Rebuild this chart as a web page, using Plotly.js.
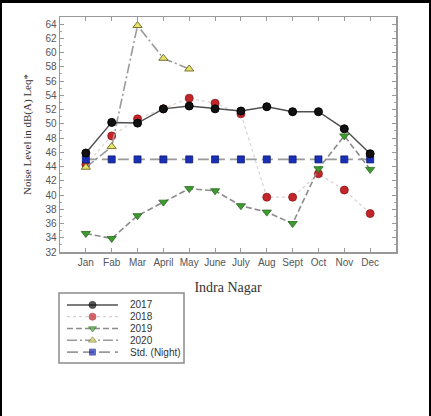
<!DOCTYPE html>
<html>
<head>
<meta charset="utf-8">
<script src="https://cdn.plot.ly/plotly-3.0.1.min.js"></script>
<style>html,body{margin:0;padding:0;background:#fff;}#chart{width:431px;height:416px;}</style>
</head>
<body>
<div id="chart"></div>
<script>
var months = ["Jan","Fab","Mar","April","May","June","July","Aug","Sept","Oct","Nov","Dec"];
var y2017 = [45.9, 50.2, 50.1, 52.1, 52.5, 52.1, 51.8, 52.4, 51.7, 51.7, 49.3, 45.8];
var y2018 = [44.3, 48.3, 50.7, 52.1, 53.6, 52.9, 51.4, 39.7, 39.7, 43.0, 40.7, 37.4];
var y2019 = [34.6, 33.9, 37.1, 39.0, 40.9, 40.6, 38.5, 37.6, 36.0, 43.7, 48.3, 43.6];
var y2020 = [43.9, 46.8, 63.8, 59.2, 57.7, null, null, null, null, null, null, null];
var yStd  = [45, 45, 45, 45, 45, 45, 45, 45, 45, 45, 45, 45];
var seriesNames = ["2017", "2018", "2019", "2020", "Std. (Night)"];

var W = 431, H = 416;
function px(x){ return x / W; }
function py(y){ return (H - y) / H; }

var styles = [
  {line:{color:"#505050", width:1.5, dash:"solid"}, marker:{symbol:"circle", size:8, color:"#111", line:{color:"#000", width:1}}},
  {line:{color:"#dcd0d0", width:1.2, dash:"dot"}, marker:{symbol:"circle", size:8, color:"#c4252a", line:{color:"#8a1a1a", width:0.8}}},
  {line:{color:"#8c8c8c", width:1.6, dash:"6px,3px"}, marker:{symbol:"triangle-down", size:8, color:"#3d9b2f", line:{color:"#2a6a20", width:0.8}}},
  {line:{color:"#9a9a9a", width:1.6, dash:"10px,3px,2px,3px"}, marker:{symbol:"triangle-up", size:8, color:"#e6e26a", line:{color:"#6a6420", width:0.9}}},
  {line:{color:"#9a9a9a", width:1.6, dash:"11px,5px"}, marker:{symbol:"square", size:7, color:"#1a2fb8", line:{color:"#0c1a70", width:0.8}}}
];
var dataSets = [y2017, y2018, y2019, y2020, yStd];
var drawOrder = [1, 2, 3, 4, 0];

var traces = [];
drawOrder.forEach(function(i){
  traces.push({
    x: months.map(function(m, k){ return k; }),
    y: dataSets[i],
    type: "scatter",
    mode: "lines+markers",
    name: seriesNames[i],
    line: styles[i].line,
    marker: styles[i].marker,
    connectgaps: false,
    showlegend: false,
    hoverinfo: "skip",
    xaxis: "x", yaxis: "y"
  });
});

// manual compact legend (samples on auxiliary axes)
var annotations = [];
seriesNames.forEach(function(n, i){
  var row = seriesNames.length - 1 - i;
  traces.push({
    x: [0, 0.5, 1], y: [row, row, row],
    type: "scatter", mode: "lines+markers",
    line: styles[i].line,
    marker: Object.assign({}, styles[i].marker, {size: [0, styles[i].marker.size - 1, 0]}),
    showlegend: false, hoverinfo: "skip",
    xaxis: "x2", yaxis: "y2"
  });
  annotations.push({
    xref: "paper", yref: "y2", x: px(128), y: row,
    text: n, showarrow: false, xanchor: "left", yanchor: "middle",
    font: {family: "Liberation Sans, Arial, sans-serif", size: 10, color: "#333"}
  });
});

var tickFont = {family: "Liberation Sans, Arial, sans-serif", size: 10, color: "#555"};

var layout = {
  width: W, height: H,
  margin: {l: 0, r: 0, t: 0, b: 0},
  paper_bgcolor: "#fff", plot_bgcolor: "#fff",
  showlegend: false,
  xaxis: {
    domain: [px(60), px(396)],
    range: [-1, 12],
    tickmode: "array",
    tickvals: months.map(function(m, k){ return k; }),
    ticktext: months,
    ticks: "inside", ticklen: 4, tickcolor: "#999", tickwidth: 1,
    showline: true, linecolor: "#999", linewidth: 1.5, mirror: "allticks",
    showgrid: false, zeroline: false,
    tickfont: tickFont,
    automargin: false,
    title: {text: "Indra Nagar", standoff: 15,
      font: {family: "Liberation Serif, Times New Roman, serif", size: 14, color: "#333"}}
  },
  yaxis: {
    domain: [py(252), py(17)],
    range: [32, 65],
    dtick: 2, tick0: 32,
    ticks: "inside", ticklen: 4, tickcolor: "#999", tickwidth: 1,
    minor: {dtick: 1, ticks: "inside", ticklen: 2, tickcolor: "#aaa"},
    showline: true, linecolor: "#999", linewidth: 1.5, mirror: "allticks",
    showgrid: false, zeroline: false,
    tickfont: tickFont,
    automargin: false,
    title: {text: "Noise Level in dB(A) Leq*", standoff: 11,
      font: {family: "Liberation Serif, Times New Roman, serif", size: 11, color: "#333"}}
  },
  xaxis2: {domain: [px(67), px(118)], range: [0, 1], visible: false, fixedrange: true},
  yaxis2: {domain: [py(358), py(299)], range: [-0.5, 4.5], visible: false, fixedrange: true},
  annotations: annotations,
  shapes: [
    {type: "rect", xref: "paper", yref: "paper", x0: px(59), x1: px(184), y0: py(363), y1: py(293),
     line: {color: "#8a8a8a", width: 1.5}, fillcolor: "rgba(0,0,0,0)"},
    {type: "rect", xref: "paper", yref: "paper", x0: 0, x1: 1, y0: py(3), y1: 1,
     line: {width: 0}, fillcolor: "#000"},
    {type: "rect", xref: "paper", yref: "paper", x0: 0, x1: px(2), y0: 0, y1: 1,
     line: {width: 0}, fillcolor: "#000"},
    {type: "rect", xref: "paper", yref: "paper", x0: px(429), x1: 1, y0: 0, y1: 1,
     line: {width: 0}, fillcolor: "#000"}
  ]
};

Plotly.newPlot("chart", traces, layout, {staticPlot: true, displayModeBar: false});
</script>
</body>
</html>
